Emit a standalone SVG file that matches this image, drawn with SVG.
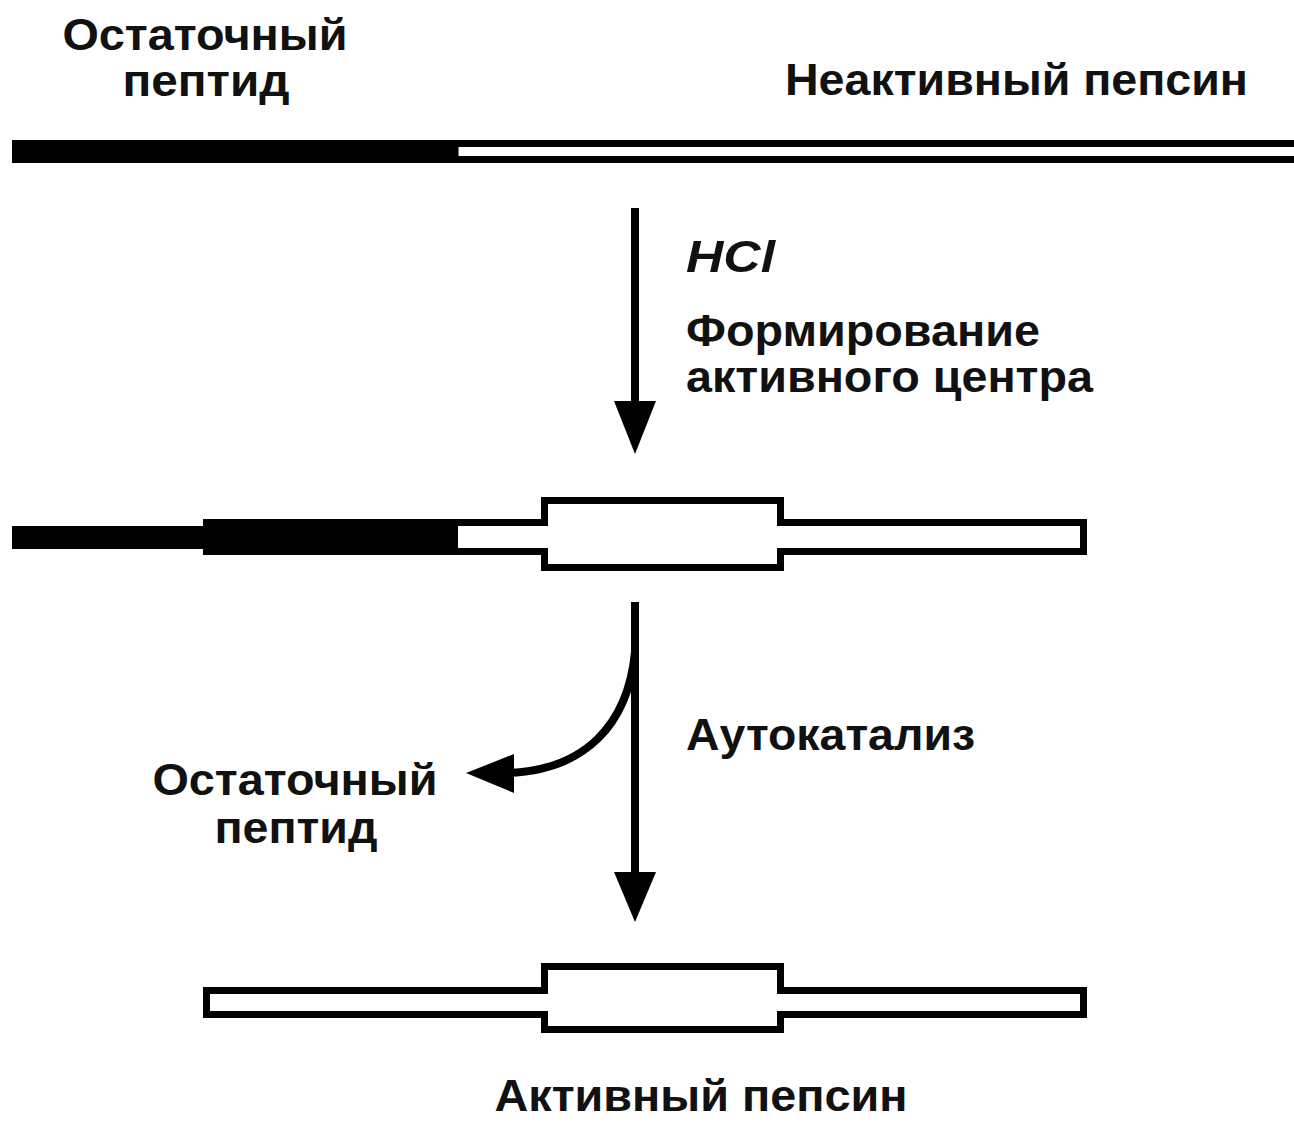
<svg xmlns="http://www.w3.org/2000/svg" width="1294" height="1122" viewBox="0 0 1294 1122">
<style>
.t{font-family:"Liberation Sans",Arial,sans-serif;font-weight:bold;font-size:45px;fill:#111}
.it{font-style:italic}
.ol{fill:#fff;stroke:#000;stroke-width:7;stroke-linejoin:miter}
.ln{fill:none;stroke:#000;stroke-width:8}
.hd{fill:#000}
</style>
<rect width="1294" height="1122" fill="#fff"/>
<g id="top-labels">
<text class="t" x="205" y="50" text-anchor="middle" textLength="285" lengthAdjust="spacingAndGlyphs">Остаточный</text>
<text class="t" x="206" y="96" text-anchor="middle" textLength="167" lengthAdjust="spacingAndGlyphs">пептид</text>
<text class="t" x="785" y="95" textLength="463" lengthAdjust="spacingAndGlyphs">Неактивный пепсин</text>
</g>
<g id="inactive-pepsin">
<rect class="ol" x="455" y="143.5" width="850" height="16"/>
<rect x="12" y="140" width="446" height="23" fill="#000"/>
</g>
<g id="intermediate">
<path class="ol" d="M450 522.5 H544.5 V500.5 H780.5 V522.5 H1083.5 V551.5 H780.5 V567.5 H544.5 V551.5 H450 Z"/>
<rect x="12" y="526" width="195" height="23" fill="#000"/>
<rect x="203" y="519" width="255" height="36" fill="#000"/>
</g>
<g id="active-pepsin">
<path class="ol" d="M206.5 990.5 H544.5 V966.5 H780.5 V990.5 H1083.5 V1014.5 H780.5 V1029.5 H544.5 V1014.5 H206.5 Z"/>
</g>
<g id="connectors">
<line class="ln" x1="635" y1="208" x2="635" y2="405"/>
<polygon class="hd" points="614,401 656,401 635,454"/>
<line class="ln" x1="635" y1="602" x2="635" y2="876"/>
<polygon class="hd" points="614,872 656,872 635,922"/>
<path class="ln" d="M635 652 C628 725 585 770 508 773"/>
<polygon class="hd" points="466,773 514,754 514,793"/>
</g>
<g id="labels">
<text class="t it" x="686" y="272" textLength="89" lengthAdjust="spacingAndGlyphs">HCl</text>
<text class="t" x="686" y="346" textLength="354" lengthAdjust="spacingAndGlyphs">Формирование</text>
<text class="t" x="686" y="392" textLength="407" lengthAdjust="spacingAndGlyphs">активного центра</text>
<text class="t" x="686" y="750" textLength="289" lengthAdjust="spacingAndGlyphs">Аутокатализ</text>
<text class="t" x="295" y="795" text-anchor="middle" textLength="285" lengthAdjust="spacingAndGlyphs">Остаточный</text>
<text class="t" x="296" y="843" text-anchor="middle" textLength="163" lengthAdjust="spacingAndGlyphs">пептид</text>
<text class="t" x="701" y="1111" text-anchor="middle" textLength="413" lengthAdjust="spacingAndGlyphs">Активный пепсин</text>
</g>
</svg>
